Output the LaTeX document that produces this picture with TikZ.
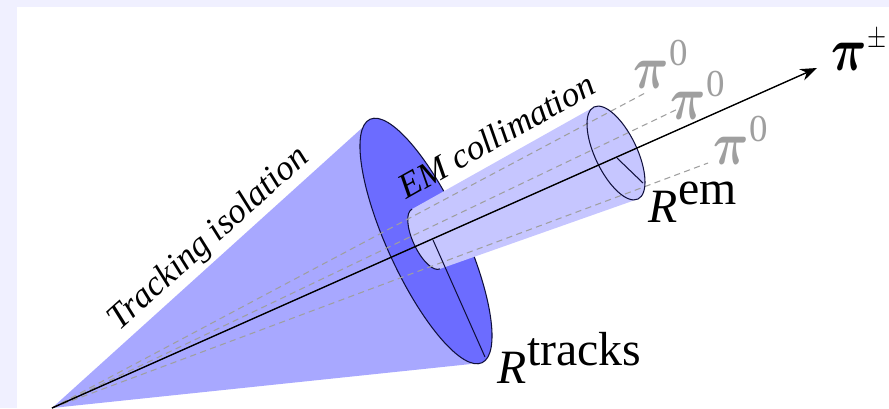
\documentclass[tikz,border=0pt]{standalone}
\usepackage{fontspec}
\setmainfont{Liberation Serif}
\usepackage{amsmath,bm}
\usepackage{xcolor}
\usetikzlibrary{arrows.meta}

\definecolor{pagetint}{HTML}{F0F0FF}
\definecolor{conefill}{HTML}{A8A8FF}
\definecolor{discfill}{HTML}{6C6CFF}
\definecolor{tubefill}{HTML}{C6C6FF}
\definecolor{rimline}{HTML}{10103C}

\tikzset{
    rim/.style={draw=rimline,line width=0.6pt},
    pionline/.style={gray!75,line width=0.6pt,dash pattern=on 3.5pt off 2.5pt},
    pionlabel/.style={gray!75,xscale=2.8,yscale=3.5,inner sep=0pt,anchor=base west},
    radiuslabel/.style={scale=2.72,inner sep=0pt,anchor=base west},
    conelabel/.style={scale=2.0,inner sep=0pt,anchor=base west}
}

\newcommand{\pizero}{$\bm{\pi}$\raisebox{0.36em}{\scalebox{0.75}[0.62]{0}}}

\begin{document}
\begin{tikzpicture}[
    x=1.0cm,
    y=1.0cm,
    >={Stealth[length=9.5pt,width=7pt]}
]

% ---------------------------------------------------------
% Page
% ---------------------------------------------------------

\useasboundingbox (0,0) rectangle (17.78,8.16);
\fill[pagetint] (0,0) rectangle (17.78,8.16);
\fill[white] (0.34,0) rectangle (17.78,8.02);

% ---------------------------------------------------------
% Coordinates
% ---------------------------------------------------------

\coordinate (apex) at (1.04,0);
\coordinate (tip) at (16.34,6.80);
\coordinate (pionA) at (12.94,6.32);
\coordinate (pionB) at (13.64,6.02);
\coordinate (pionC) at (14.16,4.90);

% ---------------------------------------------------------
% Tracking cone
% ---------------------------------------------------------

\fill[conefill] (apex) -- (7.24,5.60) -- (9.42,0.88) -- cycle;

\fill[discfill,rim,shift={(8.52,3.34)},rotate=-65.3]
    (0,0) ellipse [x radius=2.68,y radius=0.77];

% ---------------------------------------------------------
% EM tube
% ---------------------------------------------------------

\path[shift={(8.52,3.38)},rotate=-65]
    (180:0.66 and 0.26) coordinate (innertop);
\coordinate (outertop) at (11.88,6.02);
\coordinate (outerbottom) at (12.76,4.18);

\fill[tubefill,shift={(8.52,3.38)},rotate=-65]
    (innertop) arc [start angle=180,end angle=360,x radius=0.66,y radius=0.26]
    -- (outerbottom) -- (outertop) -- cycle;

\draw[rim,shift={(8.52,3.38)},rotate=-65]
    (innertop) arc [start angle=180,end angle=360,x radius=0.66,y radius=0.26];

\fill[tubefill,shift={(12.32,5.10)},rotate=-64.5]
    (0,0) ellipse [x radius=1.02,y radius=0.42];

% ---------------------------------------------------------
% Pion directions
% ---------------------------------------------------------

\draw[pionline] (apex) -- (pionA);
\draw[pionline] (apex) -- (pionB);
\draw[pionline] (apex) -- (pionC);

% ---------------------------------------------------------
% Radii and rims
% ---------------------------------------------------------

\coordinate (bigcentre) at (8.66,3.36);
\coordinate (bigedge) at (9.70,1.02);
\coordinate (smallcentre) at (12.34,5.00);
\coordinate (smalledge) at (12.86,4.50);

\draw[rim] (bigcentre) -- (bigedge);
\draw[rim] (smallcentre) -- (smalledge);

\draw[rim,shift={(12.32,5.10)},rotate=-64.5]
    (0,0) ellipse [x radius=1.02,y radius=0.42];

% Particle axis
\draw[->,line width=0.8pt] (apex) -- (tip);

% ---------------------------------------------------------
% Labels
% ---------------------------------------------------------

\node[conelabel,rotate=42] (tracklabel) at (2.38,1.52) {\textit{Tracking isolation}};
\node[conelabel,rotate=29.3] (emlabel) at (8.12,4.16) {\textit{EM collimation}};

\node[pionlabel] (pilabelA) at (12.66,6.40) {\pizero};
\node[pionlabel] (pilabelB) at (13.40,5.78) {\pizero};
\node[pionlabel] (pilabelC) at (14.26,4.88) {\pizero};

\node[pionlabel,black] (chargedlabel) at (16.62,6.76)
    {$\bm{\pi}$\raisebox{0.36em}{\scalebox{0.5}[0.5]{$\pm$}}};

\node[radiuslabel] (emradius) at (12.96,3.72)
    {\textit{R}\raisebox{0.36em}{em}};
\node[radiuslabel] (trackradius) at (9.94,0.50)
    {\textit{R}\raisebox{0.36em}{tracks}};

\end{tikzpicture}
\end{document}
